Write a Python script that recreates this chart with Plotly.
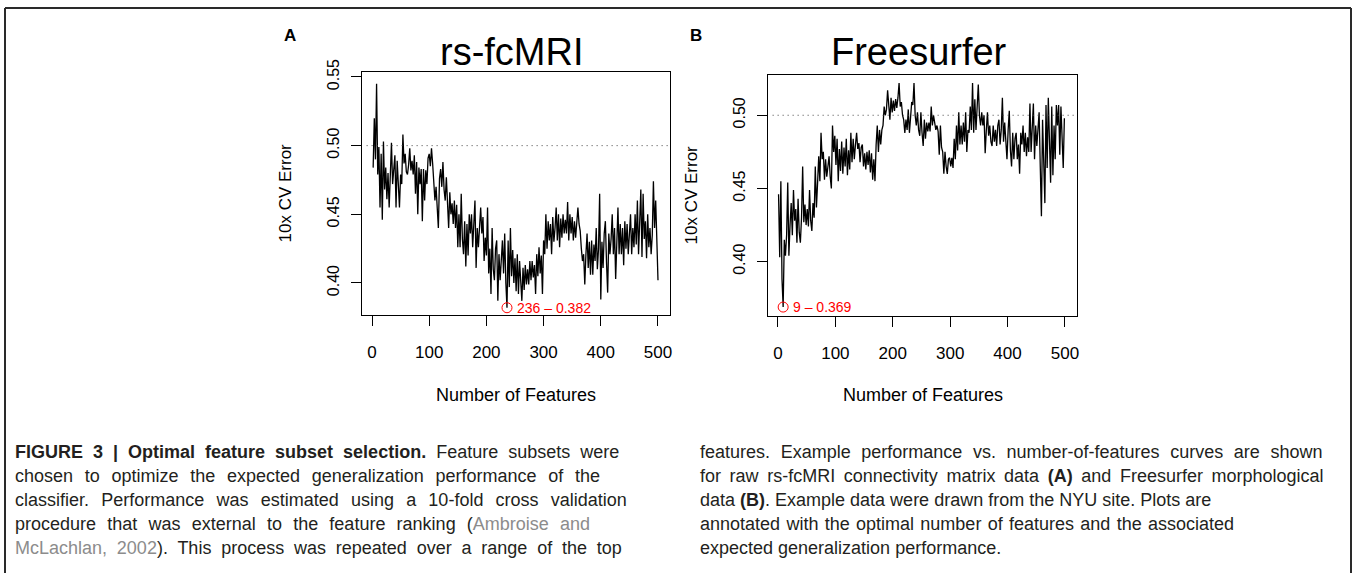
import json
import plotly.graph_objects as go

W, H = 1355, 573

# ---------------- data ----------------
a_features = list(range(2, 501, 2))
a_error = [
    0.484, 0.520, 0.490, 0.545, 0.479, 0.499, 0.455, 0.494, 0.446, 0.503,
    0.468, 0.484, 0.461, 0.480, 0.455, 0.478, 0.502, 0.472, 0.480, 0.493,
    0.455, 0.489, 0.472, 0.455, 0.479, 0.472, 0.508, 0.487, 0.494, 0.481,
    0.479, 0.486, 0.498, 0.482, 0.489, 0.479, 0.493, 0.465, 0.488, 0.450,
    0.484, 0.472, 0.483, 0.445, 0.483, 0.460, 0.482, 0.472, 0.491, 0.494,
    0.485, 0.498, 0.487, 0.476, 0.460, 0.470, 0.452, 0.440, 0.476, 0.483,
    0.470, 0.488, 0.468, 0.460, 0.477, 0.450, 0.440, 0.466, 0.450, 0.458,
    0.443, 0.460, 0.440, 0.457, 0.426, 0.450, 0.426, 0.465, 0.432, 0.421,
    0.445, 0.412, 0.443, 0.420, 0.450, 0.436, 0.450, 0.426, 0.445, 0.460,
    0.411, 0.440, 0.426, 0.445, 0.455, 0.436, 0.448, 0.416, 0.433, 0.420,
    0.455, 0.407, 0.425, 0.392, 0.440, 0.410, 0.402, 0.425, 0.431, 0.387,
    0.421, 0.402, 0.418, 0.431, 0.407, 0.436, 0.400, 0.382, 0.431, 0.397,
    0.440, 0.405, 0.424, 0.400, 0.418, 0.394, 0.421, 0.392, 0.416, 0.400,
    0.387, 0.411, 0.395, 0.413, 0.399, 0.410, 0.399, 0.416, 0.402, 0.416,
    0.404, 0.413, 0.392, 0.421, 0.405, 0.426, 0.407, 0.420, 0.392, 0.431,
    0.421, 0.450, 0.425, 0.445, 0.431, 0.443, 0.421, 0.448, 0.430, 0.440,
    0.455, 0.431, 0.450, 0.426, 0.447, 0.433, 0.450, 0.436, 0.446, 0.436,
    0.459, 0.431, 0.450, 0.436, 0.448, 0.431, 0.445, 0.433, 0.443, 0.455,
    0.443, 0.438, 0.425, 0.416, 0.421, 0.399, 0.421, 0.436, 0.411, 0.430,
    0.406, 0.431, 0.406, 0.428, 0.416, 0.440, 0.410, 0.425, 0.465, 0.388,
    0.430, 0.411, 0.436, 0.445, 0.415, 0.393, 0.436, 0.421, 0.432, 0.450,
    0.421, 0.440, 0.403, 0.435, 0.455, 0.421, 0.443, 0.421, 0.440, 0.413,
    0.445, 0.425, 0.443, 0.421, 0.438, 0.450, 0.421, 0.440, 0.426, 0.450,
    0.428, 0.460, 0.421, 0.445, 0.468, 0.419, 0.465, 0.432, 0.445, 0.418,
    0.450, 0.426, 0.440, 0.421, 0.435, 0.474, 0.440, 0.460, 0.421, 0.402,
]

b_features = list(range(1, 500, 2))
b_error = [
    0.446, 0.403, 0.455, 0.388, 0.369, 0.415, 0.404, 0.418, 0.454, 0.404,
    0.425, 0.440, 0.418, 0.449, 0.428, 0.436, 0.413, 0.443, 0.420, 0.413,
    0.430, 0.465, 0.427, 0.439, 0.425, 0.436, 0.424, 0.449, 0.428, 0.421,
    0.440, 0.430, 0.465, 0.437, 0.454, 0.472, 0.455, 0.488, 0.470, 0.475,
    0.456, 0.470, 0.458, 0.468, 0.472, 0.458, 0.450, 0.493, 0.475, 0.486,
    0.466, 0.484, 0.455, 0.477, 0.462, 0.482, 0.460, 0.478, 0.465, 0.484,
    0.459, 0.476, 0.463, 0.488, 0.468, 0.484, 0.470, 0.480, 0.488, 0.477,
    0.481, 0.468, 0.478, 0.480, 0.465, 0.474, 0.463, 0.475, 0.466, 0.476,
    0.461, 0.474, 0.456, 0.470, 0.455, 0.480, 0.493, 0.475, 0.490, 0.480,
    0.490, 0.493, 0.506, 0.500, 0.504, 0.517, 0.508, 0.497, 0.512, 0.502,
    0.510, 0.503, 0.511, 0.505, 0.512, 0.522, 0.506, 0.509, 0.500, 0.497,
    0.488, 0.497, 0.490, 0.504, 0.488, 0.500, 0.509, 0.507, 0.522, 0.500,
    0.493, 0.502, 0.490, 0.486, 0.502, 0.488, 0.479, 0.497, 0.484, 0.495,
    0.489, 0.495, 0.489, 0.506, 0.493, 0.500, 0.494, 0.490, 0.493, 0.489,
    0.473, 0.493, 0.478, 0.475, 0.460, 0.475, 0.465, 0.460, 0.470, 0.471,
    0.465, 0.471, 0.464, 0.484, 0.470, 0.493, 0.476, 0.502, 0.480, 0.493,
    0.480, 0.495, 0.482, 0.502, 0.475, 0.490, 0.488, 0.506, 0.490, 0.522,
    0.488, 0.511, 0.490, 0.505, 0.521, 0.500, 0.493, 0.502, 0.493, 0.500,
    0.474, 0.490, 0.502, 0.486, 0.493, 0.482, 0.479, 0.493, 0.482, 0.490,
    0.479, 0.493, 0.497, 0.480, 0.490, 0.512, 0.482, 0.495, 0.484, 0.470,
    0.490, 0.503, 0.476, 0.465, 0.488, 0.470, 0.484, 0.488, 0.470, 0.480,
    0.460, 0.488, 0.480, 0.493, 0.475, 0.488, 0.472, 0.485, 0.475, 0.508,
    0.475, 0.490, 0.508, 0.470, 0.493, 0.479, 0.488, 0.502, 0.465, 0.431,
    0.497, 0.460, 0.440, 0.507, 0.464, 0.512, 0.470, 0.454, 0.506, 0.459,
    0.493, 0.470, 0.507, 0.493, 0.507, 0.473, 0.506, 0.490, 0.464, 0.498,
]

x_ticks = [0, 100, 200, 300, 400, 500]
a_yticks = [0.40, 0.45, 0.50, 0.55]
b_yticks = [0.40, 0.45, 0.50]
chance_level = 0.5

panel_titles = ["rs-fcMRI", "Freesurfer"]
panel_letters = ["A", "B"]
x_title = "Number of Features"
y_title = "10x CV Error"

caption_left = [
    "<b>FIGURE 3 | Optimal feature subset selection.</b> Feature subsets were",
    "chosen to optimize the expected generalization performance of the",
    "classifier. Performance was estimated using a 10-fold cross validation",
    "procedure that was external to the feature ranking (<span style='color:#8c8c8c'>Ambroise and</span>",
    "<span style='color:#8c8c8c'>McLachlan, 2002</span>). This process was repeated over a range of the top",
]
caption_right = [
    "features. Example performance vs. number-of-features curves are shown",
    "for raw rs-fcMRI connectivity matrix data <b>(A)</b> and Freesurfer morphological",
    "data <b>(B)</b>. Example data were drawn from the NYU site. Plots are",
    "annotated with the optimal number of features and the associated",
    "expected generalization performance.",
]
# extra word spacing (px) to imitate the justified caption columns
left_spacing = [5.0, 6.7, 7.2, 6.2, 4.8]
right_spacing = [5.6, 3.6, 0.0, 1.3, 0.0]

# ---------------- layout helpers ----------------
def px_x(p):
    return p / W


def px_y(p):
    return 1 - p / H


FONT = "Liberation Sans, Arial, Helvetica, sans-serif"
CAP_FONT = "Liberation Sans, Arial, sans-serif"

fig = go.Figure()

panels = [
    dict(x=a_features, y=a_error, xa="x", ya="y", box=(362, 670, 72, 315),
         xr=[-17.5, 521], yr=[0.3767, 0.5536], yt=a_yticks),
    dict(x=b_features, y=b_error, xa="x2", ya="y2", box=(768, 1077, 75, 316),
         xr=[-17.4, 521], yr=[0.3629, 0.5275], yt=b_yticks),
]

annotations = []
shapes = []

for i, p in enumerate(panels):
    fig.add_trace(go.Scatter(x=p["x"], y=p["y"], mode="lines",
                             line=dict(color="black", width=1.3),
                             xaxis=p["xa"], yaxis=p["ya"], showlegend=False,
                             hoverinfo="skip"))
    # optimum
    k = min(range(len(p["y"])), key=lambda j: p["y"][j])
    bx, by = p["x"][k], p["y"][k]
    fig.add_trace(go.Scatter(x=[bx], y=[by], mode="markers",
                             marker=dict(symbol="circle-open", size=10, color="red",
                                         line=dict(width=1, color="red")),
                             xaxis=p["xa"], yaxis=p["ya"], showlegend=False))
    annotations.append(dict(x=bx, y=by, xref=p["xa"], yref=p["ya"],
                            text=f"{bx} \u2013 {by:.3f}", showarrow=False,
                            xanchor="left", yanchor="middle", xshift=8,
                            font=dict(color="red", size=14, family=FONT)))
    # dotted chance line
    shapes.append(dict(type="line", xref=f"{p['xa']} domain", x0=0.015, x1=1,
                       yref=p["ya"], y0=chance_level, y1=chance_level,
                       line=dict(color="#444", width=1, dash="1px,4px")))
    l, r, t, b = p["box"]
    cx = (l + r) / 2
    cy = (t + b) / 2
    annotations.append(dict(x=px_x(cx - 4), y=px_y(52), xref="paper", yref="paper",
                            text=panel_titles[i], showarrow=False,
                            xanchor="center", yanchor="middle",
                            font=dict(size=38, color="black", family=FONT)))
    annotations.append(dict(x=px_x(l - 72), y=px_y(36), xref="paper", yref="paper",
                            text=f"<b>{panel_letters[i]}</b>", showarrow=False,
                            xanchor="center", yanchor="middle",
                            font=dict(size=17, color="black", family=FONT)))
    annotations.append(dict(x=px_x(cx), y=px_y(395), xref="paper", yref="paper",
                            text=x_title, showarrow=False,
                            xanchor="center", yanchor="middle",
                            font=dict(size=18, color="black", family=FONT)))
    annotations.append(dict(x=px_x(l - 77), y=px_y(cy), xref="paper", yref="paper",
                            text=y_title, showarrow=False, textangle=-90,
                            xanchor="center", yanchor="middle",
                            font=dict(size=17, color="black", family=FONT)))

    axis_common = dict(showgrid=False, zeroline=False, showline=True, mirror=True,
                       automargin=False,
                       linecolor="black", linewidth=1, ticks="outside", ticklen=10,
                       tickcolor="black", tickwidth=1,
                       tickfont=dict(size=17, color="black", family=FONT))
    xkey = "xaxis" if i == 0 else "xaxis2"
    ykey = "yaxis" if i == 0 else "yaxis2"
    fig.update_layout(**{
        xkey: dict(axis_common, domain=[px_x(l), px_x(r)], range=p["xr"],
                   tickvals=x_ticks, anchor=p["ya"], ticklabelstandoff=12),
        ykey: dict(axis_common, domain=[px_y(b), px_y(t)], range=p["yr"],
                   tickvals=p["yt"], ticktext=[f"{v:.2f}" for v in p["yt"]],
                   anchor=p["xa"], tickangle=-90, ticklabelstandoff=6,
                   tickfont=dict(size=16, color="black", family=FONT)),
    })

# caption
line_y = [452, 476, 500, 524, 548]
spacing_map = {}
for col_x, lines, spacing in ((13, caption_left, left_spacing),
                              (698, caption_right, right_spacing)):
    for txt, yy, ws in zip(lines, line_y, spacing):
        spacing_map[len(annotations)] = ws
        annotations.append(dict(x=px_x(col_x), y=px_y(yy), xref="paper", yref="paper",
                                text=txt, showarrow=False, xanchor="left",
                                yanchor="middle", align="left",
                                font=dict(size=18, color="#231f20", family=CAP_FONT)))

# outer frame (top, left, right)
frame = dict(color="#2a2a2a", width=2)
shapes.append(dict(type="line", xref="paper", yref="paper",
                   x0=px_x(5), x1=px_x(1351), y0=px_y(8), y1=px_y(8), line=frame))
shapes.append(dict(type="line", xref="paper", yref="paper",
                   x0=px_x(5), x1=px_x(5), y0=px_y(8), y1=0, line=frame))
shapes.append(dict(type="line", xref="paper", yref="paper",
                   x0=px_x(1351), x1=px_x(1351), y0=px_y(8), y1=0, line=frame))

fig.update_layout(template="none", width=W, height=H,
                  margin=dict(l=0, r=0, t=0, b=0, pad=0), autosize=False,
                  paper_bgcolor="white", plot_bgcolor="white",
                  annotations=annotations, shapes=shapes, showlegend=False)

js = (
    "document.body.style.margin='0px';"
    "document.body.style.padding='0px';"
    "document.body.style.overflow='hidden';"
    "var gd=document.getElementById('{plot_id}');"
    "var WS=" + json.dumps({str(k): v for k, v in spacing_map.items()}) + ";"
    "function justifyCaption(){"
    " gd.querySelectorAll('g.annotation').forEach(function(g){"
    "  var i=g.getAttribute('data-index');"
    "  if(WS[i]!==undefined){g.querySelectorAll('text').forEach(function(t){"
    "   t.setAttribute('text-anchor','start');"
    "   t.style.textAnchor='start';"
    "   t.style.wordSpacing=WS[i]+'px';});}"
    " });"
    "}"
    "justifyCaption();"
    "if(gd.on){gd.on('plotly_afterplot',justifyCaption);}"
)

fig.write_html("out.html", config={"displayModeBar": False}, post_script=js)
